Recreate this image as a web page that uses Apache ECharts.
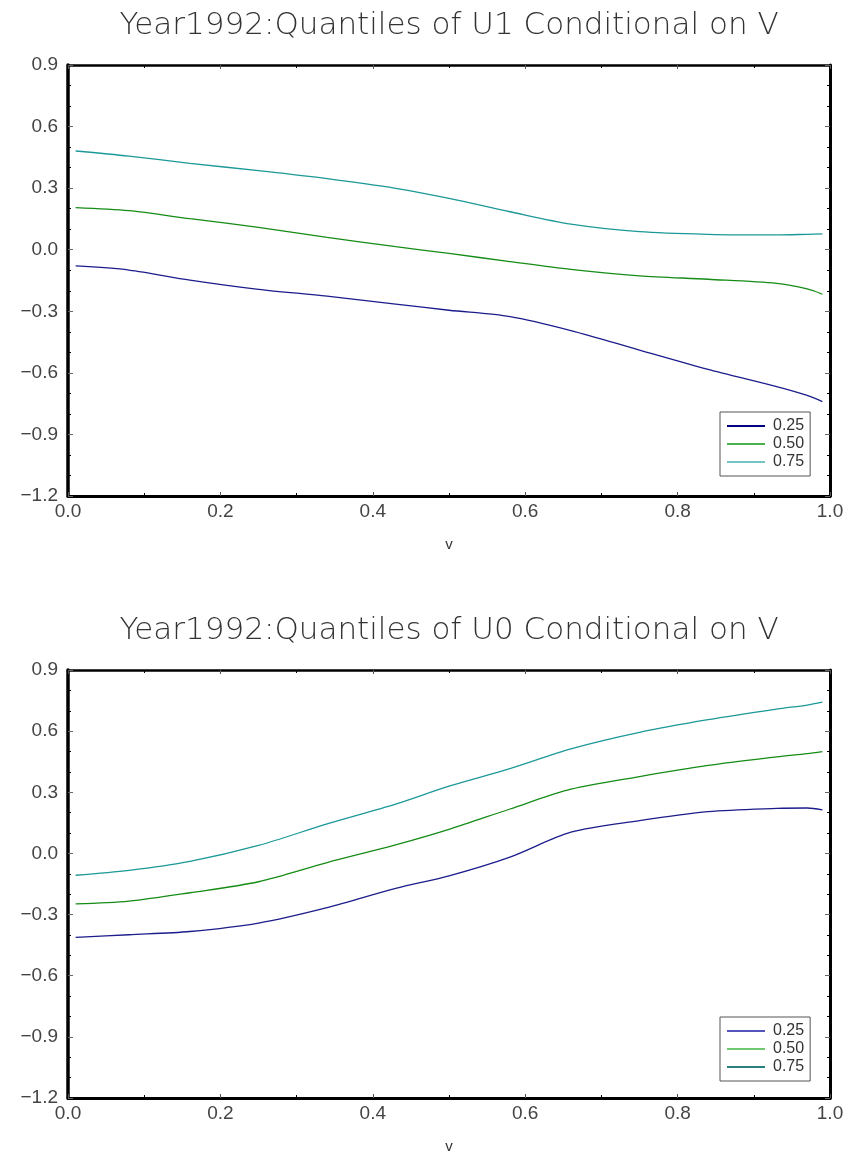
<!DOCTYPE html>
<html>
<head>
<meta charset="utf-8">
<script src="https://cdn.jsdelivr.net/npm/echarts@6/dist/echarts.min.js"></script>
<style>
html,body{margin:0;padding:0;background:#fff;}
#chart{width:849px;height:1155px;}
</style>
</head>
<body>
<div id="chart"></div>
<script>
// x grid (v)
const vGrid = [0.01, 0.08, 0.16, 0.25, 0.34, 0.43, 0.50, 0.58, 0.66, 0.75, 0.84, 0.93, 0.97, 0.99];
// Top panel: quantiles of U1 conditional on V
const u1_q25 = [-0.079, -0.099, -0.148, -0.193, -0.226, -0.265, -0.295, -0.326, -0.394, -0.489, -0.583, -0.667, -0.710, -0.740];
const u1_q50 = [0.205, 0.190, 0.151, 0.109, 0.060, 0.015, -0.018, -0.058, -0.096, -0.127, -0.144, -0.164, -0.191, -0.217];
const u1_q75 = [0.481, 0.456, 0.421, 0.385, 0.346, 0.299, 0.250, 0.185, 0.125, 0.088, 0.075, 0.072, 0.075, 0.077];
// Bottom panel: quantiles of U0 conditional on V
const u0_q25 = [-0.412, -0.399, -0.383, -0.342, -0.266, -0.172, -0.110, -0.018, 0.104, 0.161, 0.205, 0.221, 0.223, 0.214];
const u0_q50 = [-0.248, -0.234, -0.193, -0.139, -0.045, 0.042, 0.118, 0.218, 0.315, 0.377, 0.432, 0.474, 0.490, 0.500];
const u0_q75 = [-0.107, -0.083, -0.039, 0.039, 0.145, 0.242, 0.330, 0.416, 0.513, 0.594, 0.656, 0.708, 0.728, 0.742];

const names = ['0.25', '0.50', '0.75'];
const titles = ['Year1992:Quantiles of U1 Conditional on V', 'Year1992:Quantiles of U0 Conditional on V'];

const lineColors = ['#1c1c8c', '#168c16', '#1c9898'];
const legendColorsTop = ['#000080', '#4cb04c', '#74c6c6'];
const legendColorsBot = ['#5454bc', '#70c870', '#2a8080'];

function pairs(ys){ return vGrid.map((v,i)=>[v, ys[i]]); }
function fmt(v){ const s = Math.abs(v).toFixed(1); return v < -1e-9 ? '\u2212' + s : s; }

const FONT = 'Liberation Sans';
const gridTops = [65, 670];

function xAxes(gi){
  return [
    { gridIndex: gi, type: 'value', min: 0, max: 1, interval: 0.2, position: 'bottom',
      name: 'v', nameLocation: 'middle', nameGap: 41,
      nameTextStyle: {fontFamily: FONT, fontSize: 15, color: '#333'},
      axisLine: {show: true, onZero: false, lineStyle: {color: '#000', width: 3}},
      axisTick: {show: true, inside: true, length: 4, lineStyle: {color: '#555', width: 1}},
      minorTick: {show: true, splitNumber: 2, length: 3, lineStyle: {color: '#000', width: 1}},
      axisLabel: {fontFamily: FONT, fontSize: 19, color: '#444', margin: 6, formatter: v => v.toFixed(1)},
      splitLine: {show: false}
    },
    { gridIndex: gi, type: 'value', min: 0, max: 1, interval: 0.2, position: 'top',
      axisLine: {show: true, onZero: false, lineStyle: {color: '#000', width: 2.5}},
      axisTick: {show: true, inside: true, length: 4, lineStyle: {color: '#555', width: 1}},
      minorTick: {show: true, splitNumber: 2, length: 3, lineStyle: {color: '#000', width: 1}},
      axisLabel: {show: false}, splitLine: {show: false}
    }
  ];
}
function yAxes(gi){
  return [
    { gridIndex: gi, type: 'value', min: -1.2, max: 0.9, interval: 0.3, position: 'left',
      axisLine: {show: true, onZero: false, lineStyle: {color: '#000', width: 3.5}},
      axisTick: {show: true, inside: true, length: 5, lineStyle: {color: '#666', width: 1}},
      minorTick: {show: true, splitNumber: 3, length: 3, lineStyle: {color: '#000', width: 1}},
      axisLabel: {fontFamily: FONT, fontSize: 19, color: '#444', margin: 10, formatter: fmt},
      splitLine: {show: false}
    },
    { gridIndex: gi, type: 'value', min: -1.2, max: 0.9, interval: 0.3, position: 'right',
      axisLine: {show: true, onZero: false, lineStyle: {color: '#000', width: 3}},
      axisTick: {show: true, inside: true, length: 5, lineStyle: {color: '#666', width: 1}},
      minorTick: {show: true, splitNumber: 3, length: 3, lineStyle: {color: '#000', width: 1}},
      axisLabel: {show: false}, splitLine: {show: false}
    }
  ];
}

const panels = [[u1_q25, u1_q50, u1_q75], [u0_q25, u0_q50, u0_q75]];
const series = [];
panels.forEach((p, gi) => {
  p.forEach((ys, k) => {
    series.push({
      name: names[k], type: 'line', xAxisIndex: gi*2, yAxisIndex: gi*2,
      data: pairs(ys), smooth: 0.3, showSymbol: false, symbol: 'none',
      lineStyle: {color: lineColors[k], width: 1.3}, itemStyle: {color: lineColors[k]},
      animation: false
    });
  });
});

function legend(top, cols){
  return {
    orient: 'vertical', left: 720, top: top,
    backgroundColor: '#fff', borderColor: '#555', borderWidth: 1,
    padding: [6, 6, 6, 7], itemGap: 2, itemWidth: 38, itemHeight: 2, icon: 'rect',
    textStyle: {fontFamily: FONT, fontSize: 16, color: '#333', lineHeight: 16, padding: [0, 0, 0, 3]},
    selectedMode: false,
    data: names.map((n,k)=>({name: n, itemStyle: {color: cols[k]}}))
  };
}

const option = {
  backgroundColor: '#fff',
  animation: false,
  title: titles.map((t,i)=>({
    text: t, left: 444, textAlign: 'center', top: gridTops[i] - 60,
    textStyle: {fontFamily: 'DejaVu Sans', fontWeight: 200, fontSize: 31, color: '#333'}
  })),
  grid: gridTops.map(t => ({left: 68, right: 19, top: t, height: 431})),
  xAxis: [...xAxes(0), ...xAxes(1)],
  yAxis: [...yAxes(0), ...yAxes(1)],
  legend: [legend(412, legendColorsTop), legend(1017, legendColorsBot)],
  series: series
};

const chart = echarts.init(document.getElementById('chart'), null, {renderer: 'canvas'});
chart.setOption(option);
</script>
</body>
</html>
